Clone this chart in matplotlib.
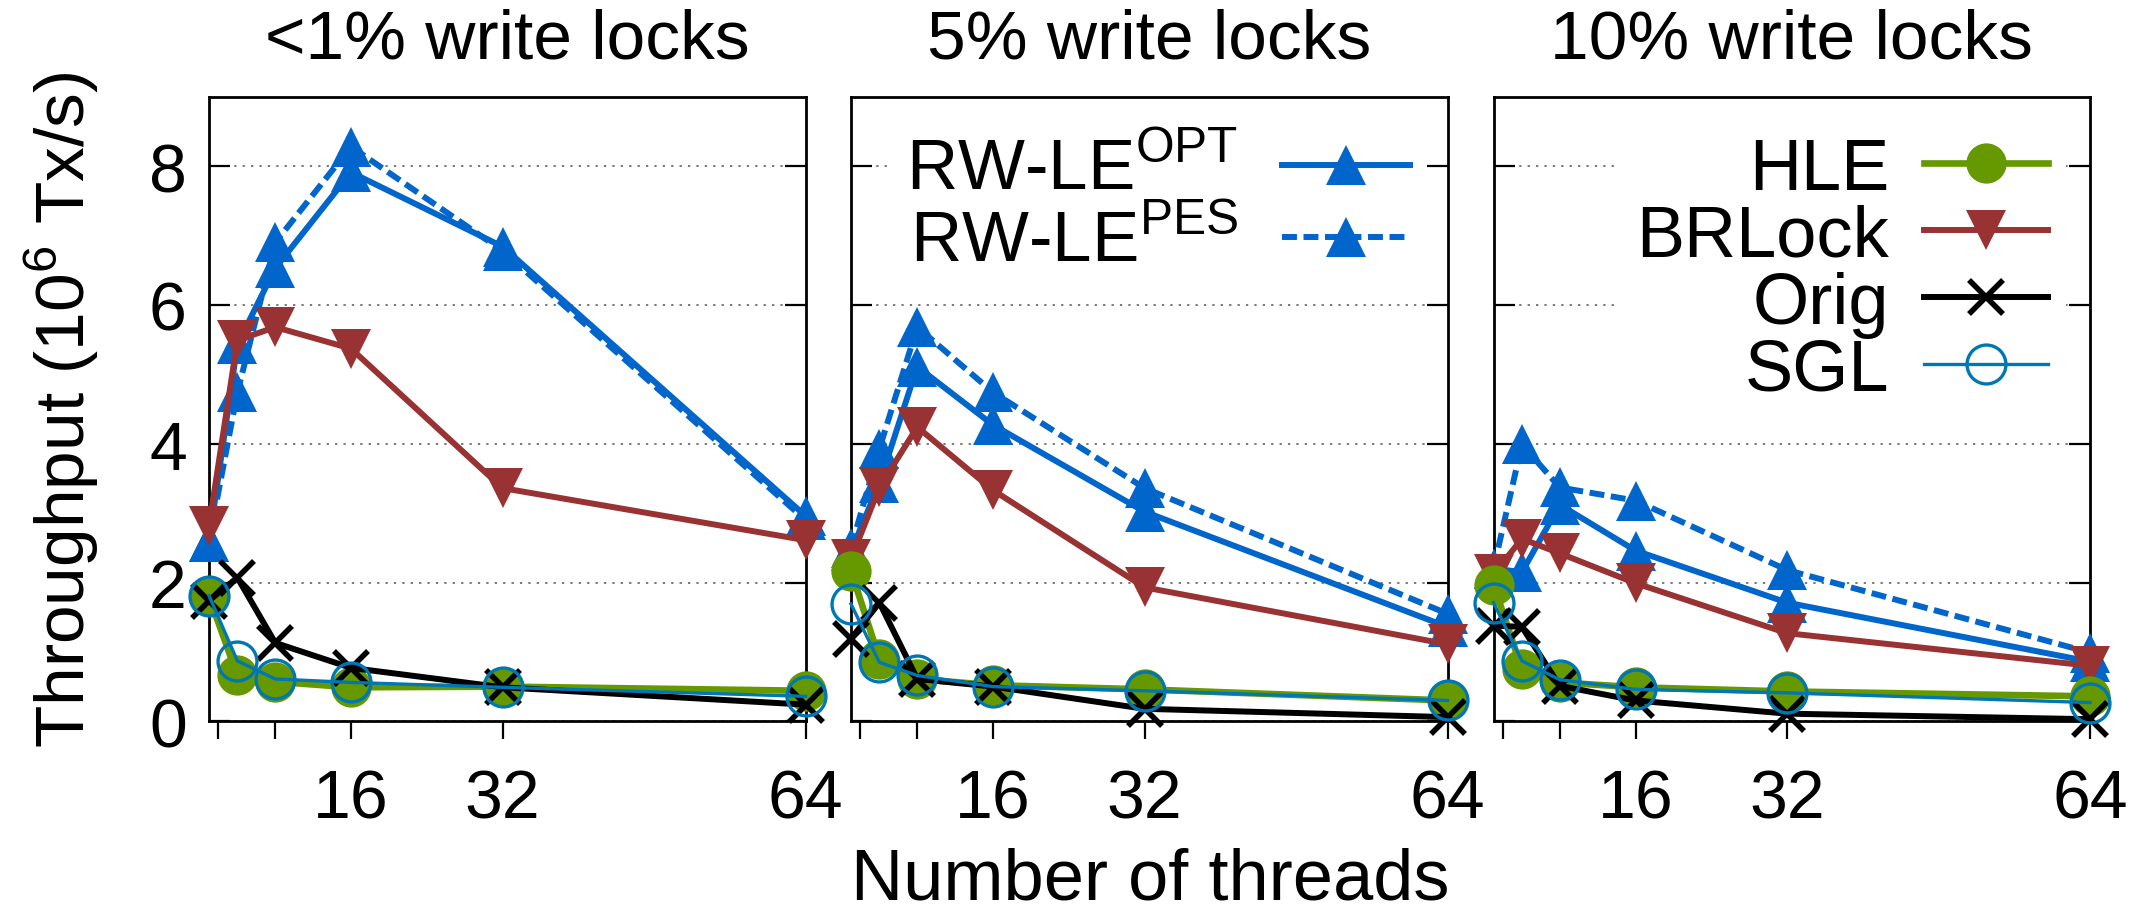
import matplotlib
matplotlib.use("Agg")
import matplotlib.pyplot as plt

plt.rcParams['font.family'] = ['Liberation Sans', 'DejaVu Sans']

threads = [1, 4, 8, 16, 32, 64]
titles = ["<1% write locks", "5% write locks", "10% write locks"]

# panel 1: <1% write locks
opt_1 = [2.59, 5.43, 6.53, 7.91, 6.84, 2.96]
pes_1 = [2.59, 4.74, 6.90, 8.28, 6.78, 2.90]
brl_1 = [2.81, 5.49, 5.68, 5.37, 3.36, 2.61]
hle_1 = [1.80, 0.66, 0.57, 0.49, 0.50, 0.44]
orig_1 = [1.74, 2.07, 1.13, 0.77, 0.49, 0.24]
sgl_1 = [1.81, 0.87, 0.61, 0.56, 0.49, 0.36]

# panel 2: 5% write locks
opt_2 = [2.45, 3.43, 5.11, 4.27, 3.02, 1.36]
pes_2 = [2.50, 3.93, 5.68, 4.74, 3.36, 1.55]
brl_2 = [2.34, 3.37, 4.24, 3.33, 1.93, 1.11]
hle_2 = [2.17, 0.90, 0.61, 0.52, 0.46, 0.30]
orig_2 = [1.19, 1.71, 0.61, 0.50, 0.18, 0.06]
sgl_2 = [1.69, 0.85, 0.66, 0.50, 0.44, 0.30]

# panel 3: 10% write locks
opt_3 = [2.20, 2.15, 3.12, 2.46, 1.71, 0.86]
pes_3 = [2.20, 3.99, 3.37, 3.18, 2.18, 0.99]
brl_3 = [2.12, 2.63, 2.42, 1.99, 1.27, 0.80]
hle_3 = [1.97, 0.75, 0.56, 0.49, 0.43, 0.36]
orig_3 = [1.38, 1.36, 0.51, 0.30, 0.11, 0.03]
sgl_3 = [1.71, 0.87, 0.60, 0.46, 0.41, 0.27]

panels = [
    (opt_1, pes_1, brl_1, hle_1, orig_1, sgl_1),
    (opt_2, pes_2, brl_2, hle_2, orig_2, sgl_2),
    (opt_3, pes_3, brl_3, hle_3, orig_3, sgl_3),
]

xticks = [2, 8, 16, 32, 64]
xticklabels = ["", "", "16", "32", "64"]
yticks = [0, 2, 4, 6, 8]
yticklabels = ["0", "2", "4", "6", "8"]

BLUE = "#0066CC"
RED = "#993333"
GREEN = "#669900"
BLACK = "#000000"
SGLC = "#0077B5"

fig = plt.figure(figsize=(21.48, 9.12), dpi=100)
lefts = [209 / 2148, 851 / 2148, 1493.5 / 2148]
bottom = (912 - 722.3) / 912
height = (722.3 - 97.7) / 912
width = 596.5 / 2148

for i, (opt, pes, brl, hle, orig, sgl) in enumerate(panels):
    ax = fig.add_axes([lefts[i], bottom, width, height])
    kw = dict(clip_on=False)
    l_opt, = ax.plot(threads, opt, color=BLUE, lw=4.3, marker='^', ms=29, mew=0, zorder=3, **kw)
    l_pes, = ax.plot(threads, pes, color=BLUE, lw=4.3, ls=(0, (2.5, 1.1)), marker='^', ms=29, mew=0, zorder=3, **kw)
    l_brl, = ax.plot(threads, brl, color=RED, lw=4.3, marker='v', ms=29, mew=0, zorder=4, **kw)
    l_hle, = ax.plot(threads, hle, color=GREEN, lw=4.8, marker='o', ms=29, mew=0, zorder=5, **kw)
    l_orig, = ax.plot(threads, orig, color=BLACK, lw=4.3, marker='x', ms=25, mew=4.0, zorder=6, **kw)
    l_sgl, = ax.plot(threads, sgl, color=SGLC, lw=2.4, marker='o', ms=28, mfc='none', mec=SGLC, mew=2.4, zorder=7, **kw)

    ax.set_xlim(1, 64)
    ax.set_ylim(0, 9)
    ax.set_xticks(xticks)
    ax.set_xticklabels(xticklabels)
    ax.set_yticks(yticks)
    if i == 0:
        ax.set_yticklabels(yticklabels)
    else:
        ax.set_yticklabels([])
    ax.tick_params(axis='y', direction='in', length=15, width=1.6, right=True, left=True,
                   labelsize=49, pad=16)
    ax.tick_params(axis='x', direction='out', length=13, width=1.6, top=False,
                   labelsize=49, pad=20)
    for s in ax.spines.values():
        s.set_linewidth(2.0)
    ax.yaxis.grid(True, linestyle=(0, (1.5, 4)), color='#555555', lw=1.1, zorder=0)
    ax.set_axisbelow(True)
    ax.set_title(titles[i], fontsize=50, pad=28)

    common = dict(loc='upper right', frameon=True, facecolor='white', edgecolor='none',
                  framealpha=1, fancybox=False, markerfirst=False,
                  borderaxespad=0, borderpad=0.25)
    if i == 1:
        leg = ax.legend([l_opt, l_pes],
                        ['RW-LE$^{\\mathregular{OPT}}$', 'RW-LE$^{\\mathregular{PES}}$'],
                        bbox_to_anchor=(0.966, 0.963), labelspacing=0.06, fontsize=51,
                        handlelength=1.8, handletextpad=0.62, **common)
        leg.set_zorder(10)
    if i == 2:
        leg = ax.legend([l_hle, l_brl, l_orig, l_sgl], ['HLE', 'BRLock', 'Orig', 'SGL'],
                        bbox_to_anchor=(0.96, 0.965), labelspacing=0.0, fontsize=52,
                        handlelength=1.72, handletextpad=0.48, **common)
        leg.set_zorder(10)

fig.text(62 / 2148, (912 - 410) / 912, 'Throughput (10$^{\\mathregular{6}}$ Tx/s)',
         rotation=90, ha='center', va='center', fontsize=50)
fig.text(1150 / 2148, 12 / 912, 'Number of threads', ha='center', va='baseline', fontsize=52)

fig.savefig("out.png", dpi=100)
